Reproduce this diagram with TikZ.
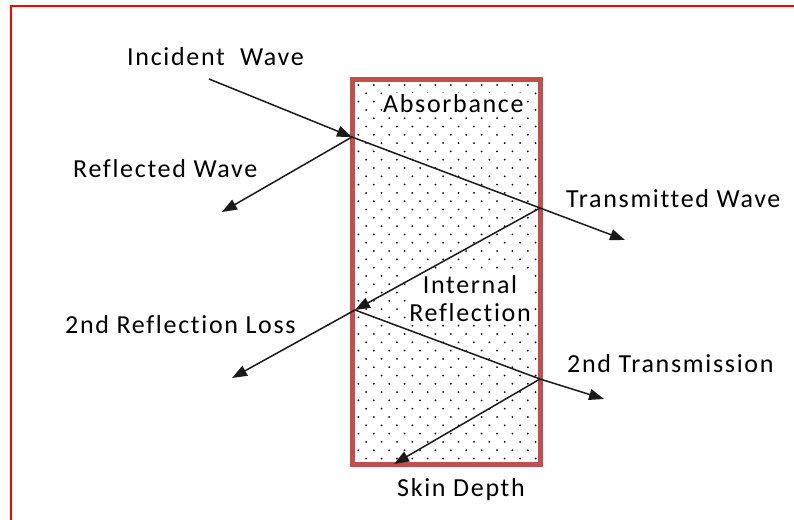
\documentclass[tikz,border=0pt]{standalone}
\usepackage{fontspec}
\setmainfont{Carlito}[LetterSpace=6.5,Ligatures={NoCommon}]
\usetikzlibrary{arrows.meta}
\definecolor{boxred}{HTML}{C0504D}
\definecolor{wave}{HTML}{1A1A1A}
\tikzset{
  lbl/.style={font=\fontsize{26}{28}\selectfont, text=black, inner sep=1pt},
  inlbl/.style={lbl, fill=white},
  ray/.style={draw=wave, line width=1.5pt, -{Triangle[length=15pt,width=11pt]}},
  frame/.style={draw=red, line width=1.5pt},
  slab/.style={draw=boxred, line width=5pt},
}
\begin{document}
\begin{tikzpicture}[x=1pt,y=-1pt]
\useasboundingbox (0,0) rectangle (794,519);
% outer red frame (top and left edges visible)
\draw[frame] (11,520) -- (11,6) -- (795,6);
% dotted fill of the slab
\begin{scope}
\clip (355,82) rectangle (537.5,462);
\foreach \r in {0,...,46}{
  \pgfmathsetmacro\yy{85+8.3*\r}
  \pgfmathsetmacro\xo{mod(\r,2)==0 ? 420 : 412.3}
  \foreach \c in {-5,...,9}{
    \fill (\xo+15.4*\c,\yy) circle[radius=1pt];
  }
}
\end{scope}
% slab outline
\draw[slab] (352.5,79.5) rectangle (540,464.5);
% key points
\coordinate (A) at (352,137);
\coordinate (B) at (540,208);
\coordinate (C) at (355,310);
\coordinate (D) at (540,379);
\coordinate (I0) at (209,79);
\coordinate (R1) at (222,212);
\coordinate (T1) at (625,240);
\coordinate (R2) at (232,378);
\coordinate (T2) at (604,399);
\coordinate (S) at (394,464);
% labels
\node[lbl, anchor=base west] (inc) at (126,65.5) {Incident\ \ Wave};
\node[lbl, anchor=base west] (refl) at (72,177) {Reflected Wave};
\node[lbl, anchor=base west] (trans) at (565,207) {Transmitted Wave};
\node[lbl, anchor=base west] (refl2) at (64,333) {2nd Reflection Loss};
\node[lbl, anchor=base west] (trans2) at (566,372) {2nd Transmission};
\node[inlbl, anchor=base west] (abs) at (382,112) {Absorbance};
\node[inlbl, align=center] (intr) at (470,299) {Internal\\Reflection};
\node[inlbl, anchor=base west] (skin) at (396,496) {Skin Depth};
% rays
\draw[ray] (I0) -- (A);
\draw[ray] (A) -- (R1);
\draw[ray] (A) -- (B) -- (T1);
\draw[ray] (B) -- (C);
\draw[ray] (C) -- (R2);
\draw[ray] (C) -- (D) -- (T2);
\draw[ray] (D) -- (S);
\end{tikzpicture}
\end{document}
